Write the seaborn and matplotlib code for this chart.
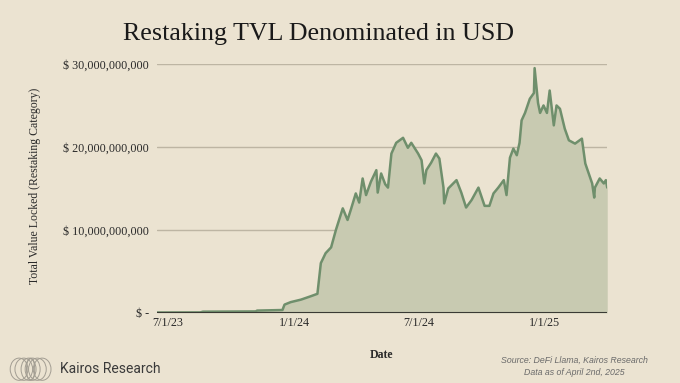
import matplotlib
matplotlib.use("Agg")
import matplotlib.pyplot as plt
from matplotlib.patches import Ellipse
import seaborn as sns
import pandas as pd

# Restaking TVL (USD billions)
dates = [
    "2023-06-15", "2023-08-17", "2023-08-21", "2023-11-06", "2023-11-08",
    "2023-12-15", "2023-12-18", "2023-12-27", "2024-01-11", "2024-01-25",
    "2024-02-04", "2024-02-09", "2024-02-16", "2024-02-24", "2024-03-02",
    "2024-03-12", "2024-03-19", "2024-03-24", "2024-03-31", "2024-04-05",
    "2024-04-10", "2024-04-15", "2024-04-22", "2024-04-30", "2024-05-02",
    "2024-05-07", "2024-05-13", "2024-05-17", "2024-05-22", "2024-05-29",
    "2024-06-08", "2024-06-15", "2024-06-20", "2024-06-30", "2024-07-05",
    "2024-07-09", "2024-07-12", "2024-07-19", "2024-07-26", "2024-07-31",
    "2024-08-06", "2024-08-07", "2024-08-13", "2024-08-25", "2024-09-01",
    "2024-09-08", "2024-09-16", "2024-09-26", "2024-10-05", "2024-10-12",
    "2024-10-18", "2024-10-25", "2024-11-02", "2024-11-06", "2024-11-11",
    "2024-11-16", "2024-11-21", "2024-11-25", "2024-11-28", "2024-12-03",
    "2024-12-10", "2024-12-16", "2024-12-17", "2024-12-22", "2024-12-25",
    "2024-12-30", "2025-01-04", "2025-01-08", "2025-01-14", "2025-01-18",
    "2025-01-23", "2025-01-30", "2025-02-05", "2025-02-14", "2025-02-24",
    "2025-03-01", "2025-03-06", "2025-03-11", "2025-03-14", "2025-03-15",
    "2025-03-22", "2025-03-28", "2025-03-31", "2025-04-02",
]
tvl_bn = [
    0.05, 0.06, 0.15, 0.18, 0.28,
    0.35, 1.0, 1.3, 1.6, 2.0,
    2.3, 6.0, 7.2, 7.9, 10.0,
    12.6, 11.2, 12.5, 14.4, 13.3,
    16.2, 14.2, 15.8, 17.2, 14.5,
    16.8, 15.5, 15.1, 19.2, 20.5,
    21.1, 19.9, 20.5, 19.2, 18.4,
    15.6, 17.2, 18.1, 19.2, 18.6,
    15.1, 13.2, 15.0, 16.0, 14.5,
    12.7, 13.6, 15.1, 12.9, 12.9,
    14.4, 15.1, 16.0, 14.2, 18.7,
    19.8, 19.0, 20.5, 23.2, 24.1,
    25.8, 26.5, 29.5, 25.3, 24.1,
    25.0, 24.1, 26.8, 22.6, 25.0,
    24.6, 22.2, 20.8, 20.4, 21.0,
    18.0, 16.8, 15.6, 13.9, 15.1,
    16.2, 15.6, 16.0, 15.1,
]
y_ticks = [0, 10e9, 20e9, 30e9]
y_labels = ["$ -", "$ 10,000,000,000", "$ 20,000,000,000", "$ 30,000,000,000"]
x_ticks = ["2023-07-01", "2024-01-01", "2024-07-01", "2025-01-01"]

df = pd.DataFrame({"date": pd.to_datetime(dates), "tvl": [v * 1e9 for v in tvl_bn]})

bg = "#ebe3d1"
sns.set_theme(style="white")
plt.rcParams["font.family"] = ["Liberation Serif", "DejaVu Serif"]

fig = plt.figure(figsize=(6.8, 3.83), dpi=100, facecolor=bg)
ax = fig.add_axes([0.231, 0.183, 0.662, 0.650], facecolor=bg)

ax.fill_between(df["date"], df["tvl"], 0, color="#c8cab1", linewidth=0)
sns.lineplot(data=df, x="date", y="tvl", ax=ax, color="#6f8f6c", linewidth=1.8)

for v in y_ticks[1:]:
    ax.axhline(v, color="#bdb5a3", linewidth=1.0, zorder=0)
ax.axhline(0, color="#3a3a34", linewidth=1.5)

ax.set_xlim(pd.Timestamp(dates[0]), pd.Timestamp(dates[-1]))
ax.set_ylim(0, 30e9)
ax.set_yticks(y_ticks)
ax.set_yticklabels(y_labels)
xt = pd.to_datetime(x_ticks)
ax.set_xticks(xt)
ax.set_xticklabels([f"{d.month}/{d.day}/{d.year % 100}" for d in xt])
ax.tick_params(axis="both", length=0, labelsize=8.7, colors="#2a2a2a")
ax.tick_params(axis="y", pad=6)
ax.tick_params(axis="x", pad=3)
for s in ax.spines.values():
    s.set_visible(False)
ax.set_xlabel("")
ax.set_ylabel("")

fig.text(0.468, 0.912, "Restaking TVL Denominated in USD", ha="center", va="center",
         fontsize=18.7, color="#1a1a1a")
fig.text(0.052, 0.515, "Total Value Locked (Restaking Category)", rotation=90,
         ha="center", va="center", fontsize=8.5, color="#2a2a2a")
fig.text(0.561, 0.072, "Date", ha="center", va="center", fontsize=8.5,
         fontweight="bold", color="#2a2a2a")

# footer
fig.text(0.845, 0.043, "Source: DeFi Llama, Kairos Research\nData as of April 2nd, 2025",
         ha="center", va="center", fontsize=6.3, style="italic", color="#6a6a6a",
         family=["Liberation Sans", "DejaVu Sans"], linespacing=1.35)
fig.text(0.088, 0.036, "Kairos Research", ha="left", va="center", fontsize=10,
         color="#3a3a3a", family=["Roboto", "DejaVu Sans"])
for cx, w in [(0.028, 0.026), (0.035, 0.026), (0.042, 0.022), (0.045, 0.012),
              (0.048, 0.022), (0.055, 0.026), (0.062, 0.026)]:
    fig.add_artist(Ellipse((cx, 0.036), w, 0.058, transform=fig.transFigure,
                           fill=False, edgecolor="#a29d92", linewidth=0.7))

fig.savefig("out.png", dpi=100, facecolor=bg)
